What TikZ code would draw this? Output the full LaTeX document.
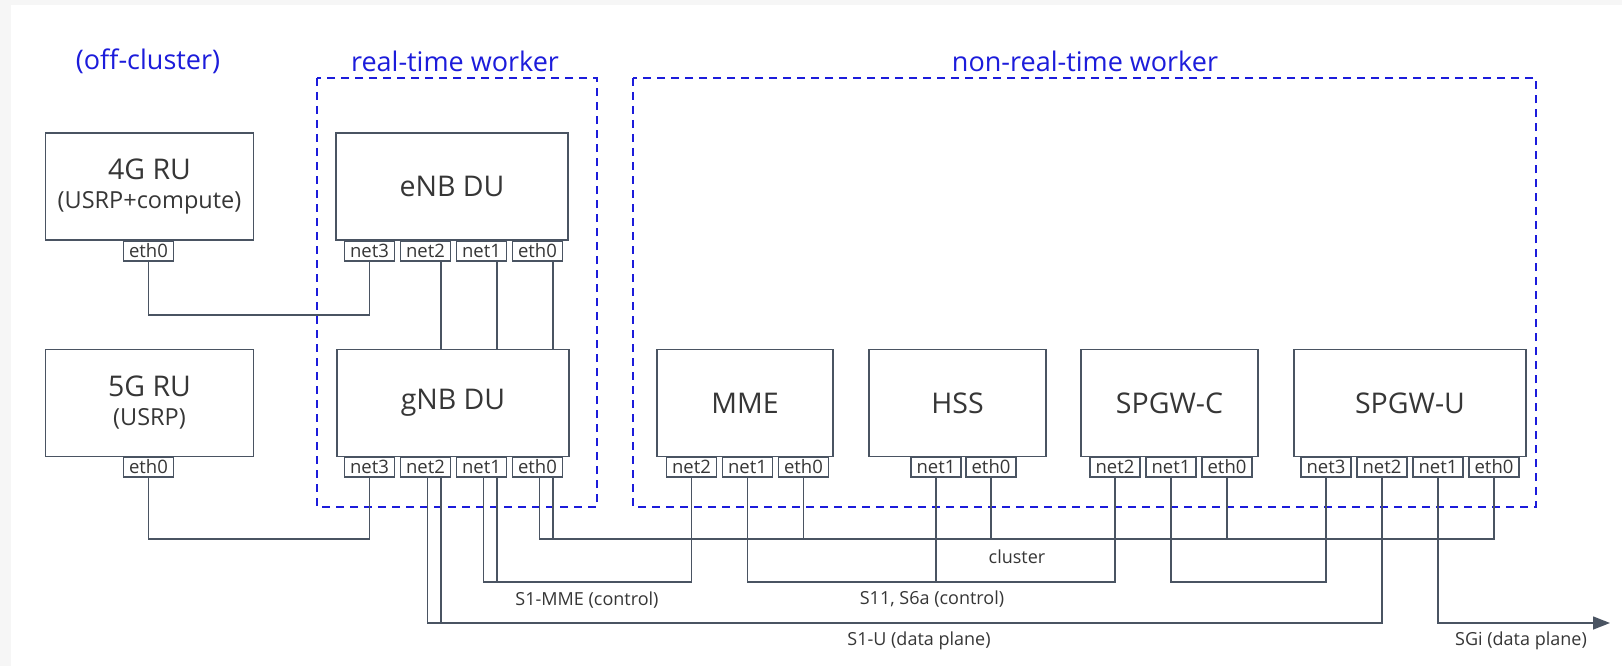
\documentclass[tikz,border=0pt]{standalone}
\usepackage{fontspec}
\setmainfont{Open Sans}
\usetikzlibrary{calc,arrows.meta}
\definecolor{ink}{HTML}{4A5462}
\definecolor{txt}{HTML}{363636}
\definecolor{zone}{HTML}{1C1CDB}
\definecolor{edge}{HTML}{F6F6F6}
\begin{document}
\begin{tikzpicture}[x=1pt,y=-1pt,
  box/.style={draw=ink,line width=1.6pt,fill=white,minimum width=#1,minimum height=107pt,
    inner sep=0pt,text=txt,font=\fontsize{28.5}{32}\selectfont,align=center},
  port/.style={draw=ink,line width=1.2pt,fill=white,minimum width=50pt,minimum height=20pt,
    inner sep=0pt,text=txt,font=\fontsize{18.5}{20}\selectfont},
  wire/.style={draw=ink,line width=1.4pt},
  zonebox/.style={draw=zone,line width=1.6pt,dash pattern=on 8pt off 6pt},
  zonetitle/.style={text=zone,font=\fontsize{27}{30}\selectfont},
  buslabel/.style={text=txt,font=\fontsize{18}{21}\selectfont}]

% page background with a light strip along the top and left edges
\fill[edge] (0,0) rectangle (1622,666);
\fill[white] (11,5) rectangle (1622,666);
\useasboundingbox (0,0) rectangle (1622,666);

% worker zones
\node[zonetitle] (t-off) at (148,61) {(off-cluster)};
\node[zonetitle] (t-rt)  at (455,61) {real-time worker};
\node[zonetitle] (t-nrt) at (1085,61) {non-real-time worker};
\draw[zonebox] (317,78) rectangle (597,507);
\draw[zonebox] (633,78) rectangle (1536,507);

% bus levels
\coordinate (yA) at (0,315);
\coordinate (yC) at (0,539);
\coordinate (yS) at (0,582);
\coordinate (yD) at (0,623);
\coordinate (sgi) at (1610,623);

% functions
\node[box=208pt] (ru4) at (149.5,186.5) {4G RU\\[-3pt]{\fontsize{23.5}{26}\selectfont(USRP+compute)}};
\node[box=208pt] (ru5) at (149.5,403) {5G RU\\[-3pt]{\fontsize{23.5}{26}\selectfont(USRP)}};
\node[box=232pt] (enb) at (452,186.5) {eNB DU};
\node[box=232pt] (gnb) at (453,403) {gNB DU};
\node[box=176pt] (mme) at (745,403) {MME};
\node[box=177pt] (hss) at (957.5,403) {HSS};
\node[box=177pt] (spgwc) at (1169.5,403) {SPGW-C};
\node[box=232pt] (spgwu) at (1410,403) {SPGW-U};

% interfaces
\node[port] (ru4-eth0) at (148.5,251) {eth0};
\node[port] (ru5-eth0) at (148.5,467) {eth0};
\node[port] (enb-net3) at (369.5,251) {net3};
\node[port] (enb-net2) at (425.5,251) {net2};
\node[port] (enb-net1) at (481.5,251) {net1};
\node[port] (enb-eth0) at (537.5,251) {eth0};
\node[port] (gnb-net3) at (369.5,467) {net3};
\node[port] (gnb-net2) at (425.5,467) {net2};
\node[port] (gnb-net1) at (481.5,467) {net1};
\node[port] (gnb-eth0) at (537.5,467) {eth0};
\node[port] (mme-net2) at (691.5,467) {net2};
\node[port] (mme-net1) at (747.5,467) {net1};
\node[port] (mme-eth0) at (803.5,467) {eth0};
\node[port] (hss-net1) at (936,467) {net1};
\node[port] (hss-eth0) at (991,467) {eth0};
\node[port] (spgwc-net2) at (1115,467) {net2};
\node[port] (spgwc-net1) at (1171,467) {net1};
\node[port] (spgwc-eth0) at (1227,467) {eth0};
\node[port] (spgwu-net3) at (1326,467) {net3};
\node[port] (spgwu-net2) at (1382,467) {net2};
\node[port] (spgwu-net1) at (1438,467) {net1};
\node[port] (spgwu-eth0) at (1494,467) {eth0};

% tap points on the DU interfaces
\coordinate (e2) at ($(enb-net2.south)+(15.5,0)$);
\coordinate (e1) at ($(enb-net1.south)+(15.5,0)$);
\coordinate (e0) at ($(enb-eth0.south)+(15.5,0)$);
\coordinate (g2a) at ($(gnb-net2.south)+(2,0)$);
\coordinate (g2b) at ($(gnb-net2.south)+(15.5,0)$);
\coordinate (g1a) at ($(gnb-net1.south)+(2,0)$);
\coordinate (g1b) at ($(gnb-net1.south)+(15.5,0)$);
\coordinate (g0a) at ($(gnb-eth0.south)+(2,0)$);
\coordinate (g0b) at ($(gnb-eth0.south)+(15.5,0)$);

% fronthaul
\draw[wire] (ru4-eth0.south) |- (yA -| enb-net3.south) -- (enb-net3.south);
\draw[wire] (ru5-eth0.south) |- (yC -| gnb-net3.south) -- (gnb-net3.south);
\draw[wire] (e2) -- (e2 |- gnb.north);
\draw[wire] (e1) -- (e1 |- gnb.north);
\draw[wire] (e0) -- (e0 |- gnb.north);

% cluster network
\draw[wire] (g0a) -- (g0a |- yC) -- (yC -| spgwu-eth0.south) -- (spgwu-eth0.south);
\draw[wire] (g0b) -- (g0b |- yC);
\foreach \p in {mme-eth0,hss-eth0,spgwc-eth0}
  \draw[wire] (\p.south) -- (\p.south |- yC);

% S1-MME
\draw[wire] (g1a) -- (g1a |- yS) -| (mme-net2.south);
\draw[wire] (g1b) -- (g1b |- yS);

% S11 / S6a
\draw[wire] (mme-net1.south) |- (yS -| spgwc-net2.south) -- (spgwc-net2.south);
\draw[wire] (hss-net1.south) -- (hss-net1.south |- yS);
\draw[wire] (spgwc-net1.south) |- (yS -| spgwu-net3.south) -- (spgwu-net3.south);

% S1-U
\draw[wire] (g2a) -- (g2a |- yD) -| (spgwu-net2.south);
\draw[wire] (g2b) -- (g2b |- yD);

% SGi
\draw[wire,-{Triangle[length=17pt,width=13pt]}] (spgwu-net1.south) |- (sgi);

% network labels
\node[buslabel] (l-cluster) at (1017,557) {cluster};
\node[buslabel] (l-s1mme) at (587,600) {S1-MME (control)};
\node[buslabel] (l-s11) at (932,599) {S11, S6a (control)};
\node[buslabel] (l-s1u) at (919,641) {S1-U (data plane)};
\node[buslabel] (l-sgi) at (1521,641) {SGi (data plane)};
\end{tikzpicture}
\end{document}
